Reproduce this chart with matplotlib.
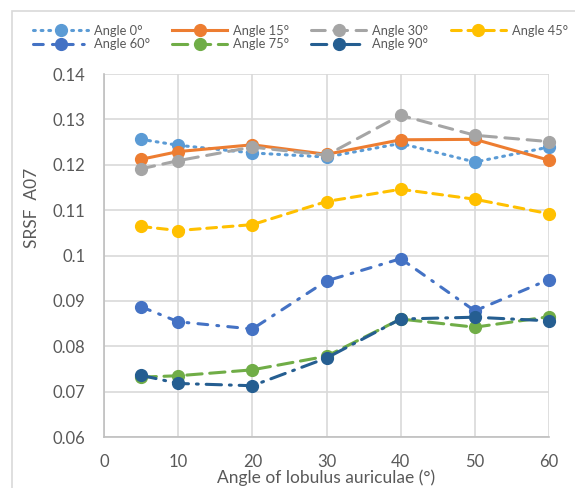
import matplotlib.pyplot as plt
from matplotlib.patches import Rectangle

plt.rcParams["font.family"] = ["Lato", "DejaVu Sans"]

# data
angles = [5, 10, 20, 30, 40, 50, 60]
series_names = ["Angle 0°", "Angle 15°", "Angle 30°", "Angle 45°",
                "Angle 60°", "Angle 75°", "Angle 90°"]
srsf_0 = [0.1256, 0.1243, 0.1226, 0.1217, 0.1247, 0.1206, 0.1239]
srsf_15 = [0.1212, 0.1229, 0.1244, 0.1223, 0.1255, 0.1256, 0.1210]
srsf_30 = [0.1191, 0.1209, 0.1239, 0.1221, 0.1309, 0.1265, 0.1251]
srsf_45 = [0.1064, 0.1055, 0.1068, 0.1119, 0.1146, 0.1124, 0.1092]
srsf_60 = [0.0887, 0.0854, 0.0838, 0.0944, 0.0993, 0.0878, 0.0947]
srsf_75 = [0.0732, 0.0735, 0.0748, 0.0778, 0.0860, 0.0842, 0.0865]
srsf_90 = [0.0736, 0.0718, 0.0713, 0.0774, 0.0860, 0.0864, 0.0856]
y_ticks = [0.06, 0.07, 0.08, 0.09, 0.10, 0.11, 0.12, 0.13, 0.14]
y_tick_labels = ["0.06", "0.07", "0.08", "0.09", "0.1", "0.11", "0.12", "0.13", "0.14"]
x_ticks = [0, 10, 20, 30, 40, 50, 60]

values = [srsf_0, srsf_15, srsf_30, srsf_45, srsf_60, srsf_75, srsf_90]
colors = ["#5B9BD5", "#ED7D31", "#A5A5A5", "#FFC000", "#4472C4", "#70AD47", "#255E91"]
styles = [
    (0, (0.6, 1.9)),          # round dot
    "-",                      # solid
    (0, (4.5, 2.8)),          # long dash
    (0, (3.2, 2.2)),          # dash
    (0, (3.2, 3.0, 0.6, 3.0)),  # long dash dot
    (0, (5.0, 2.5)),          # long dash
    (0, (5.0, 2.6, 0.6, 2.6)),  # long dash dot
]

W, H = 575, 488
fig = plt.figure(figsize=(W / 100, H / 100), dpi=100)
ax = fig.add_axes([104 / W, 1 - 437 / H, 445 / W, 363 / H])

handles = []
for vals, name, c, ls in zip(values, series_names, colors, styles):
    (h,) = ax.plot(angles, vals, color=c, lw=2.2, ls=ls, marker="o", ms=8.5,
                   dash_capstyle="round", label=name, clip_on=False)
    handles.append(h)

ax.set_xlim(0, 60)
ax.set_ylim(0.06, 0.14)
ax.set_xticks(x_ticks)
ax.set_yticks(y_ticks, y_tick_labels)
ax.grid(True, color="#D9D9D9", lw=1.2)
ax.set_axisbelow(True)
for side in ["top", "right"]:
    ax.spines[side].set_visible(False)
for side in ["left", "bottom"]:
    ax.spines[side].set_color("#BFBFBF")
    ax.spines[side].set_linewidth(1.2)
ax.tick_params(axis="y", length=0, labelsize=12, labelcolor="#595959", pad=13.5)
ax.tick_params(axis="x", length=0, labelsize=12, labelcolor="#595959", pad=12)

# axis titles sit where the reference puts them (y title is above centre)
ax.set_xlabel("Angle of lobulus auriculae (°)", fontsize=12.5, color="#595959",
              va="top")
ax.xaxis.set_label_coords(0.5, (437 - 469) / 363)
ax.set_ylabel("SRSF  A07", fontsize=12.5, color="#595959", va="center")
ax.yaxis.set_label_coords((32 - 104) / 445, (437 - 208) / 363)

# row-wise legend order for 4 columns
order = [0, 4, 1, 5, 2, 6, 3]
fig.legend([handles[i] for i in order], [series_names[i] for i in order],
           ncol=4, loc="upper left", bbox_to_anchor=(33 / W, 1 - 25 / H),
           frameon=False, fontsize=9.3, labelcolor="#595959", handlelength=4.26,
           handletextpad=0.47, columnspacing=1.7, labelspacing=0.1,
           borderaxespad=0, borderpad=0)

fig.patches.append(Rectangle((12 / W, -0.1), 1.2, 1.1 - 11 / H,
                             transform=fig.transFigure, fill=False,
                             edgecolor="#D9D9D9", lw=1.2))

fig.savefig("out.png", dpi=100)
